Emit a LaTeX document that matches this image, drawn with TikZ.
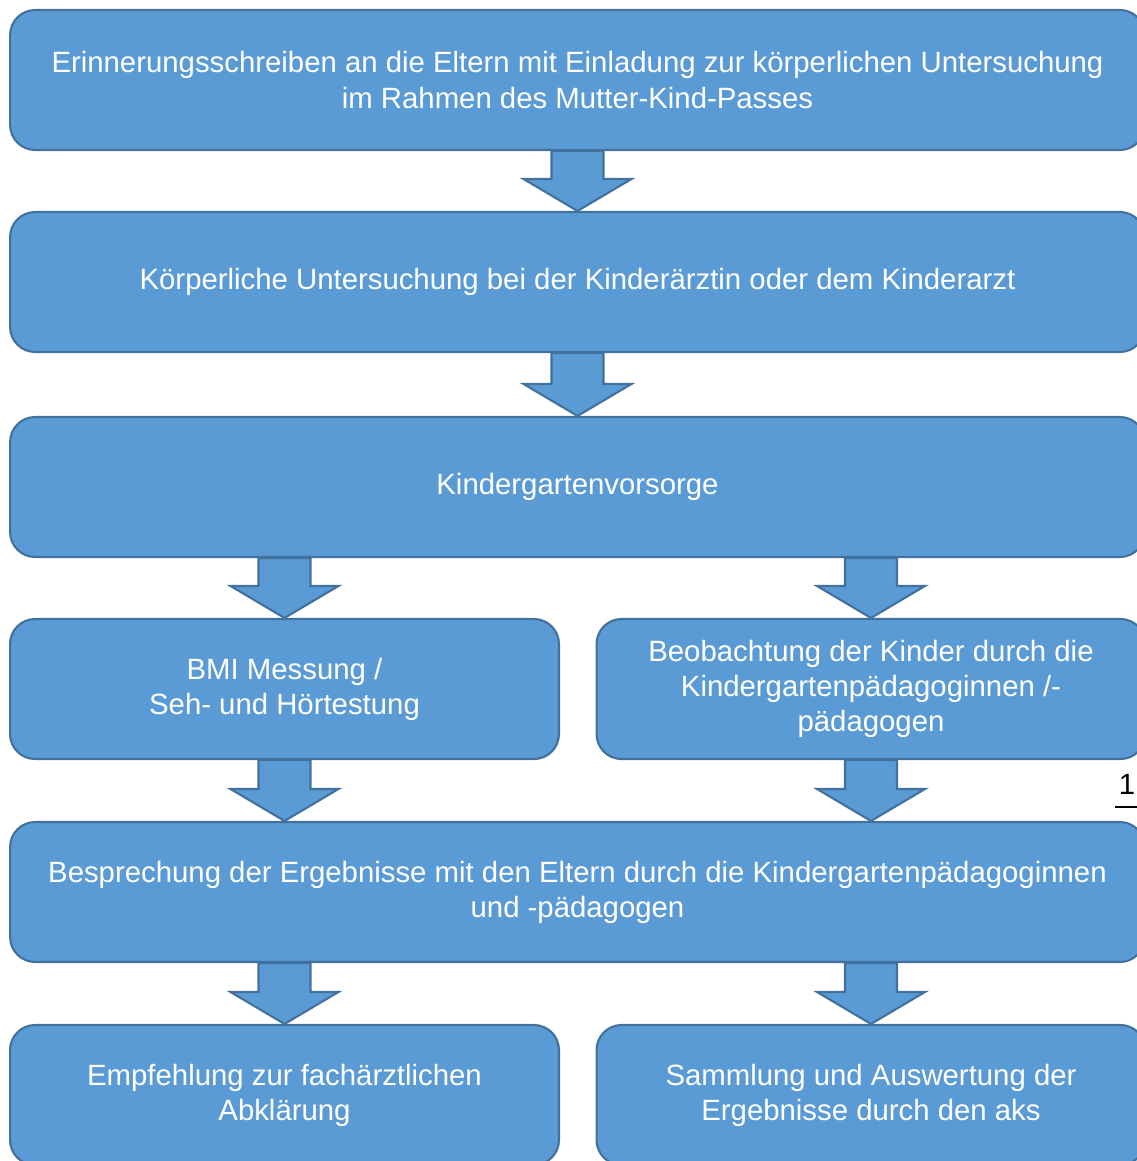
\documentclass[tikz,border=0pt]{standalone}
\usepackage{fontspec}
\setmainfont{Liberation Sans}
\usetikzlibrary{calc}
\definecolor{boxfill}{HTML}{5B9BD5}
\definecolor{boxline}{HTML}{41719C}
\pgfdeclarelayer{background}
\pgfsetlayers{background,main}
\tikzset{
  stepbox/.style={draw=boxline, fill=boxfill, line width=1.2pt, rounded corners=0.5cm,
    text=white, align=center, font=\fontsize{16.7}{20}\selectfont, inner sep=0pt},
  widebox/.style={stepbox, minimum width=22.7cm, minimum height=2.8cm},
  halfbox/.style={stepbox, minimum width=10.98cm, minimum height=2.8cm},
  arr/.style={draw=boxline, fill=boxfill, line width=1.2pt, line join=miter}
}
% block arrow from #1 down to #2, in the column of node #3
\newcommand{\flowarrow}[3]{%
  \path let \p1=(#3.north |- #1.south), \p2=(#3.north |- #2.north) in
    [arr] (\x1-0.52cm,\y1) -- (\x1-0.52cm,\y2+0.64cm) -- (\x1-1.08cm,\y2+0.64cm)
    -- (\x2,\y2) -- (\x1+1.08cm,\y2+0.64cm) -- (\x1+0.52cm,\y2+0.64cm)
    -- (\x1+0.52cm,\y1) -- cycle;}
\begin{document}
\begin{tikzpicture}[x=0.02cm, y=-0.02cm]
\useasboundingbox (0,0) rectangle (1137,1161);
\clip (0,0) rectangle (1137,1161);

\node [widebox] (remind) at (577.5,80) {Erinnerungsschreiben an die Eltern mit Einladung zur körperlichen Untersuchung\\im Rahmen des Mutter-Kind-Passes};
\node [widebox] (exam) at (577.5,282) {Körperliche Untersuchung bei der Kinderärztin oder dem Kinderarzt};
\node [widebox] (kgcare) at (577.5,487) {Kindergartenvorsorge};
\node [halfbox] (bmi) at (284.5,689) {BMI Messung /\\Seh- und Hörtestung};
\node [halfbox] (observe) at (871,689) {Beobachtung der Kinder durch die\\Kindergartenpädagoginnen /-\\pädagogen};
\node [widebox] (discuss) at (577.5,892) {Besprechung der Ergebnisse mit den Eltern durch die Kindergartenpädagoginnen\\und -pädagogen};
\node [halfbox] (advice) at (284.5,1095) {Empfehlung zur fachärztlichen\\Abklärung};
\node [halfbox] (collect) at (871,1095) {Sammlung und Auswertung der\\Ergebnisse durch den aks};

\begin{pgfonlayer}{background}
\flowarrow{remind}{exam}{exam}
\flowarrow{exam}{kgcare}{kgcare}
\flowarrow{kgcare}{bmi}{bmi}
\flowarrow{kgcare}{observe}{observe}
\flowarrow{bmi}{discuss}{bmi}
\flowarrow{observe}{discuss}{observe}
\flowarrow{discuss}{advice}{advice}
\flowarrow{discuss}{collect}{collect}
\end{pgfonlayer}

\node [font=\fontsize{16.7}{20}\selectfont, inner sep=0pt] (pagenum) at (1127,784) {1};
\draw [line width=0.8pt] (1115,807) -- (1140,807);
\end{tikzpicture}
\end{document}
